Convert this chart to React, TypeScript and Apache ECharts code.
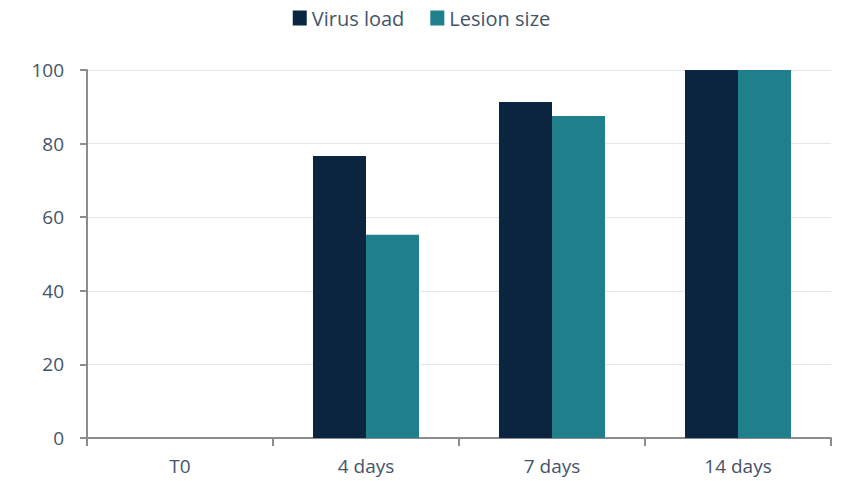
import React, { useEffect, useRef } from "react";
import * as echarts from "echarts";

const categories = ["T0", "4 days", "7 days", "14 days"];
const virusLoad = [0, 76.6, 91.3, 100];
const lesionSize = [0, 55.2, 87.5, 100];
const seriesNames = ["Virus load", "Lesion size"];

const FONT = "'Open Sans', sans-serif";
const TEXT = "#44546A";
const AXIS = "#8c8c8c";

export default function App() {
  const ref = useRef<HTMLDivElement>(null);
  useEffect(() => {
    const chart = echarts.init(ref.current!, null, { renderer: "svg" });
    chart.setOption({
      animation: false,
      legend: {
        top: 3,
        left: "center",
        itemWidth: 14,
        itemHeight: 15,
        itemGap: 26,
        icon: "rect",
        textStyle: { fontFamily: FONT, fontSize: 20, color: TEXT },
        data: seriesNames,
      },
      grid: { left: 87, right: 12, top: 70, bottom: 43 },
      xAxis: {
        type: "category",
        data: categories,
        axisLine: { show: true, lineStyle: { color: AXIS, width: 2 } },
        axisTick: { show: true, length: 8, lineStyle: { color: AXIS, width: 2 } },
        axisLabel: { fontFamily: FONT, fontSize: 19, color: TEXT, margin: 18 },
      },
      yAxis: {
        type: "value",
        min: 0,
        max: 100,
        interval: 20,
        axisLine: { show: true, lineStyle: { color: AXIS, width: 2 } },
        axisTick: { show: true, length: 7, lineStyle: { color: AXIS, width: 2 } },
        splitLine: { lineStyle: { color: "#e3e7ec", width: 1 } },
        axisLabel: { fontFamily: FONT, fontSize: 19, color: TEXT, margin: 23 },
      },
      series: [
        {
          name: seriesNames[0],
          type: "bar",
          data: virusLoad,
          barWidth: "28.5%",
          barGap: "0%",
          itemStyle: { color: "#0B2541" },
        },
        {
          name: seriesNames[1],
          type: "bar",
          data: lesionSize,
          barWidth: "28.5%",
          barGap: "0%",
          itemStyle: { color: "#1F7F8A" },
        },
      ],
    });
    return () => chart.dispose();
  }, []);
  return <div ref={ref} style={{ width: 843, height: 481, position: "absolute", left: 0, top: 0 }} />;
}
